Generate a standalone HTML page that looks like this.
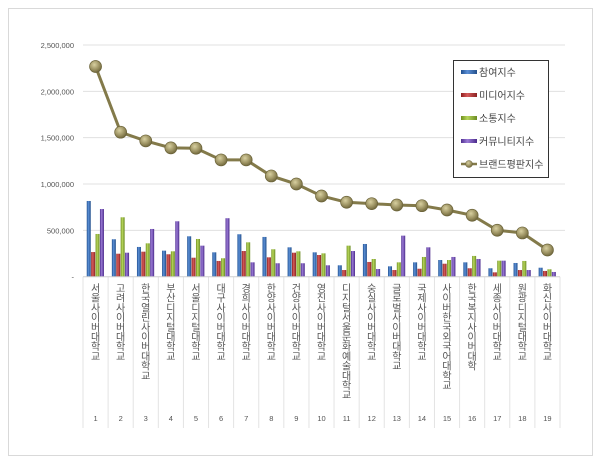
<!DOCTYPE html>
<html><head><meta charset="utf-8"><style>
body{margin:0;background:#fff}
svg{display:block;font-family:"Liberation Sans","Noto Sans CJK KR",sans-serif}
</style></head><body>
<svg width="600" height="464" viewBox="0 0 600 464" xmlns="http://www.w3.org/2000/svg">
<defs>
<linearGradient id="gb" x1="0" x2="1"><stop offset="0" stop-color="#1f4f8f"/><stop offset=".4" stop-color="#5b8fd6"/><stop offset="1" stop-color="#234f8a"/></linearGradient>
<linearGradient id="gr" x1="0" x2="1"><stop offset="0" stop-color="#8f1f1f"/><stop offset=".4" stop-color="#d65b5b"/><stop offset="1" stop-color="#8a2323"/></linearGradient>
<linearGradient id="gg" x1="0" x2="1"><stop offset="0" stop-color="#6f8f1f"/><stop offset=".4" stop-color="#b7d65b"/><stop offset="1" stop-color="#6a8a23"/></linearGradient>
<linearGradient id="gp" x1="0" x2="1"><stop offset="0" stop-color="#4f2f8f"/><stop offset=".4" stop-color="#9b7bd6"/><stop offset="1" stop-color="#4a2a8a"/></linearGradient>
<radialGradient id="gm" cx=".4" cy=".35" r=".7"><stop offset="0" stop-color="#d8d0a0"/><stop offset=".6" stop-color="#9a9060"/><stop offset="1" stop-color="#6a6238"/></radialGradient>
</defs>
<rect x="8.5" y="8.5" width="584" height="447" fill="#fff" stroke="#d9d9d9"/>
<g id="grid"></g><g id="bars"></g><g id="line"></g><g id="labels"></g>
<g>
<rect x="453.5" y="60.5" width="95" height="117" fill="#fff" stroke="#333"/>
<g font-size="10" fill="#444">
<rect x="461" y="70" width="16" height="4" fill="url(#gb)"/><text x="479" y="76">참여지수</text>
<rect x="461" y="93" width="16" height="4" fill="url(#gr)"/><text x="479" y="99">미디어지수</text>
<rect x="461" y="116" width="16" height="4" fill="url(#gg)"/><text x="479" y="122">소통지수</text>
<rect x="461" y="139" width="16" height="4" fill="url(#gp)"/><text x="479" y="145">커뮤니티지수</text>
<line x1="461" y1="164" x2="477" y2="164" stroke="#837a4a" stroke-width="2.5"/><circle cx="469" cy="164" r="3.5" fill="url(#gm)" stroke="#6a6238" stroke-width=".5"/><text x="479" y="168">브랜드평판지수</text>
</g></g>
</svg>
<script>
const categories=["서울사이버대학교","고려사이버대학교","한국열린사이버대학교","부산디지털대학교","서울디지털대학교","대구사이버대학교","경희사이버대학교","한양사이버대학교","건양사이버대학교","영진사이버대학교","디지털서울문화예술대학교","숭실사이버대학교","글로벌사이버대학교","국제사이버대학교","사이버한국외국어대학교","한국복지사이버대학","세종사이버대학교","원광디지털대학교","화신사이버대학교"];
const participation=[817000,404000,321000,281000,436000,263000,458000,429000,317000,263000,123000,353000,112000,155000,180000,155000,91000,148000,97000];
const media=[266000,248000,270000,242000,205000,170000,277000,209000,259000,234000,72000,159000,72000,86000,140000,91000,47000,72000,62000];
const communication=[461000,641000,360000,274000,407000,199000,371000,296000,274000,252000,335000,191000,155000,213000,180000,224000,173000,170000,80000];
const community=[730000,259000,515000,598000,335000,631000,155000,145000,145000,123000,277000,83000,443000,317000,213000,191000,173000,72000,51000];
const brand=[2268000,1559000,1465000,1390000,1386000,1260000,1260000,1087000,1000000,871000,803000,788000,774000,766000,720000,663000,501000,472000,288000];
const yTicks=[0,500000,1000000,1500000,2000000,2500000];
const yTickLabels=["-","500,000","1,000,000","1,500,000","2,000,000","2,500,000"];
const NS="http://www.w3.org/2000/svg";
const x0=83,x1=560,y0=276.7,yTop=45,yMax=2500000;
const bw=(x1-x0)/categories.length;
const Y=v=>y0-(v/yMax)*(y0-yTop);
const X=i=>x0+bw*(i+0.5);
function mk(t,a,p){const e=document.createElementNS(NS,t);for(const k in a)e.setAttribute(k,a[k]);p.appendChild(e);return e;}
const grid=document.getElementById('grid');
yTicks.forEach((t,i)=>{
  if(t>0){const l=mk('line',{x1:x0,x2:x1+5,y1:Y(t),y2:Y(t),stroke:'#e0e0e0'},grid);
  
  }
  const tx=mk('text',{x:74,y:Y(t)+3,'text-anchor':'end','font-size':'7.5',fill:'#555'},grid);
  tx.textContent=yTickLabels[i];
  
  
});
const bars=document.getElementById('bars');
const series=[[participation,'url(#gb)','participation'],[media,'url(#gr)','media'],[communication,'url(#gg)','communication'],[community,'url(#gp)','community']];
const barW=4.4;
categories.forEach((c,i)=>{
  series.forEach((s,j)=>{
    const v=s[0][i];
    const r=mk('rect',{x:X(i)-2*barW+j*barW,y:Y(v),width:barW-0.4,height:y0-Y(v),fill:s[1]},bars);
    
    
  });
});
const lg=document.getElementById('line');
const pts=brand.map((v,i)=>X(i)+','+Y(v)).join(' ');
const pl=mk('polyline',{points:pts,fill:'none',stroke:'#837a4a','stroke-width':3},lg);


brand.forEach((v,i)=>{
  const c=mk('circle',{cx:X(i),cy:Y(v),r:6,fill:'url(#gm)',stroke:'#6a6238','stroke-width':.7},lg);
  
  
});
const lb=document.getElementById('labels');
for(let i=0;i<=categories.length;i++){
  const l=mk('line',{x1:x0+bw*i,x2:x0+bw*i,y1:y0,y2:428,stroke:'#e3e3e3'},lb);
  
  
}
mk('line',{x1:x0,x2:x1,y1:y0,y2:y0,stroke:'#d0d0d0'},lb);
categories.forEach((c,i)=>{
  const t=mk('text',{'font-size':'10',fill:'#555','text-anchor':'middle'},lb);
  
  
  [...c].forEach((ch,k)=>{const s=mk('tspan',{x:X(i),y:292+k*9.7},t);s.textContent=ch;});
  const n=mk('text',{x:X(i),y:421,'font-size':'7.5',fill:'#555','text-anchor':'middle'},lb);
  n.textContent=String(i+1);
  
  
});
</script>
</body></html>
